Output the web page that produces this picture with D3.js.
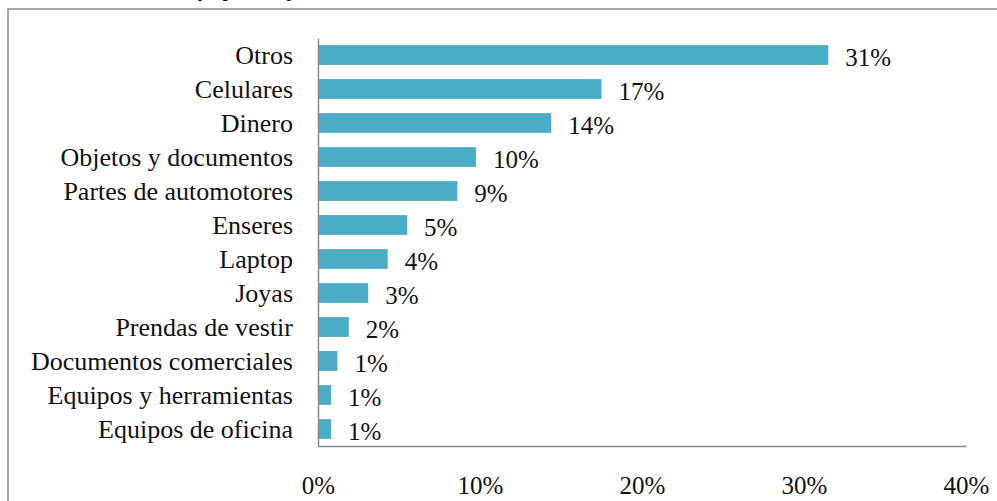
<!DOCTYPE html>
<html>
<head>
<meta charset="utf-8">
<script src="https://cdn.jsdelivr.net/npm/d3@7"></script>
<style>
  html, body { margin: 0; padding: 0; background: #fff; }
</style>
</head>
<body>
<svg id="chart" width="997" height="501"></svg>
<script>
// categorías y valores (%)
var categories = ["Otros", "Celulares", "Dinero", "Objetos y documentos", "Partes de automotores",
  "Enseres", "Laptop", "Joyas", "Prendas de vestir", "Documentos comerciales",
  "Equipos y herramientas", "Equipos de oficina"];
var values = [31.5, 17.5, 14.4, 9.75, 8.6, 5.5, 4.3, 3.1, 1.9, 1.2, 0.8, 0.8];
var valueLabels = ["31%", "17%", "14%", "10%", "9%", "5%", "4%", "3%", "2%", "1%", "1%", "1%"];
var xTicks = [0, 10, 20, 30, 40];
var title = "Hurto y tipo de objeto";

var FONT = "Liberation Serif";
var svg = d3.select("#chart").style("font-family", FONT);
var W = 997, H = 501;
var m = { l: 318, r: 31, t: 38, b: 55 };

// marco del gráfico (sale por la derecha y abajo)
svg.append("rect").attr("x", 8).attr("y", 9).attr("width", W).attr("height", H)
  .attr("fill", "none").attr("stroke", "#8a8a8a").attr("stroke-width", 1.5);

// título cortado arriba, solo asoman los trazos descendentes
svg.append("text").attr("x", 148).attr("y", -3)
  .style("font-family", FONT).style("font-weight", "bold").style("font-style", "italic")
  .attr("font-size", 19).text(title);

var x = d3.scaleLinear().domain([0, 40]).range([m.l, W - m.r]);
var y = d3.scaleBand().domain(categories).range([m.t, H - m.b]).paddingInner(0.42).paddingOuter(0.21);

// barras
svg.selectAll("rect.bar").data(values).enter().append("rect").attr("class", "bar")
  .attr("x", x(0)).attr("y", function (d, i) { return y(categories[i]); })
  .attr("width", function (d) { return x(d) - x(0); }).attr("height", y.bandwidth())
  .attr("fill", "#4bacc6");

// etiquetas de valor
svg.selectAll("text.val").data(values).enter().append("text").attr("class", "val")
  .attr("x", function (d) { return x(d) + 17; })
  .attr("y", function (d, i) { return y(categories[i]) + y.bandwidth() / 2 + 11; })
  .style("font-family", FONT).attr("font-size", 25).attr("fill", "#111")
  .text(function (d, i) { return valueLabels[i]; });

// eje y
var yAxis = d3.axisLeft(y).tickSize(0).tickPadding(25);
var gy = svg.append("g").attr("transform", "translate(" + x(0) + ",0)").call(yAxis);
gy.select(".domain").attr("stroke", "#8a8a8a").attr("stroke-width", 1.5);
gy.selectAll("text").style("font-family", FONT).attr("font-size", 26).attr("fill", "#111").attr("dy", "0.33em");

// eje x
var xAxis = d3.axisBottom(x).tickValues(xTicks).tickSize(0).tickPadding(30)
  .tickFormat(function (d) { return d + "%"; });
var gx = svg.append("g").attr("transform", "translate(0," + (H - m.b) + ")").call(xAxis);
gx.select(".domain").attr("stroke", "#8a8a8a").attr("stroke-width", 1.5);
gx.selectAll("text").style("font-family", FONT).attr("font-size", 25).attr("fill", "#111");
</script>
</body>
</html>
